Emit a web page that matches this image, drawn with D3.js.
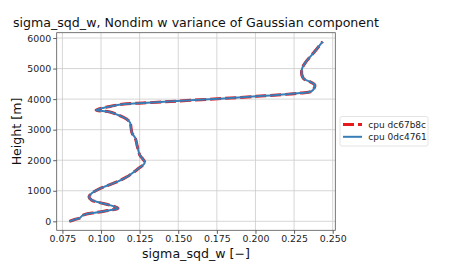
<!DOCTYPE html>
<html><head><meta charset="utf-8">
<script src="https://cdn.jsdelivr.net/npm/d3@7"></script>
<style>body{margin:0;background:#fff}svg{display:block}text{font-family:"DejaVu Sans",sans-serif}</style>
</head><body>
<svg id="c" width="450" height="270"></svg>
<script>
const sigmaSqdW = [0.0795,0.0830,0.0860,0.0884,0.0970,0.1057,0.1110,0.1057,0.0992,0.0938,0.0922,0.0938,0.0992,0.1078,0.1165,0.1240,0.1283,0.1251,0.1235,0.1222,0.1200,0.1188,0.1170,0.1110,0.1057,0.0968,0.1057,0.1150,0.1300,0.1576,0.2007,0.2290,0.2364,0.2385,0.2353,0.2310,0.2299,0.2320,0.2374,0.2435];
const heights = [0,60,100,200,290,360,425,530,610,700,800,910,1070,1240,1450,1720,1920,2170,2450,2720,2900,3230,3330,3480,3580,3640,3760,3840,3880,3960,4090,4200,4260,4460,4570,4680,4950,5170,5500,5880];
const xTicks = [0.075,0.100,0.125,0.150,0.175,0.200,0.225,0.250];
const yTicks = [0,1000,2000,3000,4000,5000,6000];
const seriesNames = ["cpu dc67b8c","cpu 0dc4761"];
const titleText = "sigma_sqd_w, Nondim w variance of Gaussian component";
const xLabel = "sigma_sqd_w [\u2212]";
const yLabel = "Height [m]";

const svg = d3.select("#c");
const L=56.7,R=335.3,T=32.7,B=230.3;
const pad=(e)=>{const d=(e[1]-e[0])*0.05;return [e[0]-d,e[1]+d];};
const x = d3.scaleLinear().domain(pad(d3.extent(sigmaSqdW))).range([L,R]);
const y = d3.scaleLinear().domain(pad(d3.extent(heights))).range([B,T]);
const pts = sigmaSqdW.map((v,i)=>[v,heights[i]]);

// grid
const g = svg.append("g");
g.selectAll(".gx").data(xTicks).join("line").attr("x1",d=>x(d)).attr("x2",d=>x(d)).attr("y1",T).attr("y2",B).attr("stroke","#cccccc").attr("stroke-width",0.8);
g.selectAll(".gy").data(yTicks).join("line").attr("y1",d=>y(d)).attr("y2",d=>y(d)).attr("x1",L).attr("x2",R).attr("stroke","#cccccc").attr("stroke-width",0.8);

const line = d3.line().x(d=>x(d[0])).y(d=>y(d[1])).curve(d3.curveCatmullRom.alpha(0.5));
svg.append("path").attr("d",line(pts)).attr("fill","none").attr("stroke","#e41a1c").attr("stroke-width",3).attr("stroke-dasharray","11,4");
svg.append("path").attr("d",line(pts)).attr("fill","none").attr("stroke","#377eb8").attr("stroke-width",2);

// axes
const xa = svg.append("g").attr("transform",`translate(0,${B})`).call(d3.axisBottom(x).tickValues(xTicks).tickFormat(d3.format(".3f")).tickSize(3.5).tickPadding(2));
const ya = svg.append("g").attr("transform",`translate(${L},0)`).call(d3.axisLeft(y).tickValues(yTicks).tickFormat(d3.format("d")).tickSize(3.5).tickPadding(2));
[xa,ya].forEach(a=>{a.select(".domain").remove();a.selectAll("text").attr("font-size","9.4px").attr("fill","#222").style("font-family","DejaVu Sans");a.selectAll("line").attr("stroke","#333").attr("stroke-width",0.8);});
svg.append("rect").attr("x",L).attr("y",T).attr("width",R-L).attr("height",B-T).attr("fill","none").attr("stroke","#555").attr("stroke-width",0.8);

svg.append("text").attr("x",(L+R)/2).attr("y",T-6).attr("text-anchor","middle").attr("font-size","12.6px").attr("fill","#111").text(titleText);
svg.append("text").attr("x",(L+R)/2).attr("y",258).attr("text-anchor","middle").attr("font-size","12.6px").attr("fill","#111").text(xLabel);
svg.append("text").attr("transform",`translate(21,${(T+B)/2}) rotate(-90)`).attr("text-anchor","middle").attr("font-size","12.6px").attr("fill","#111").text(yLabel);

// legend
const lg = svg.append("g");
lg.append("rect").attr("x",340).attr("y",116.5).attr("width",88).attr("height",29.5).attr("rx",2).attr("fill","#fff").attr("stroke","#dddddd").attr("stroke-width",0.8);
const styles=[{c:"#e41a1c",w:3,da:"11,4"},{c:"#377eb8",w:2,da:null}];
seriesNames.forEach((n,i)=>{
  const yy=124.5+i*12.3;
  lg.append("line").attr("x1",343).attr("x2",362).attr("y1",yy).attr("y2",yy).attr("stroke",styles[i].c).attr("stroke-width",styles[i].w).attr("stroke-dasharray",styles[i].da);
  lg.append("text").attr("x",368.3).attr("y",yy+3.2).attr("font-size","9px").attr("fill","#222").text(n);
});
</script>
</body></html>
